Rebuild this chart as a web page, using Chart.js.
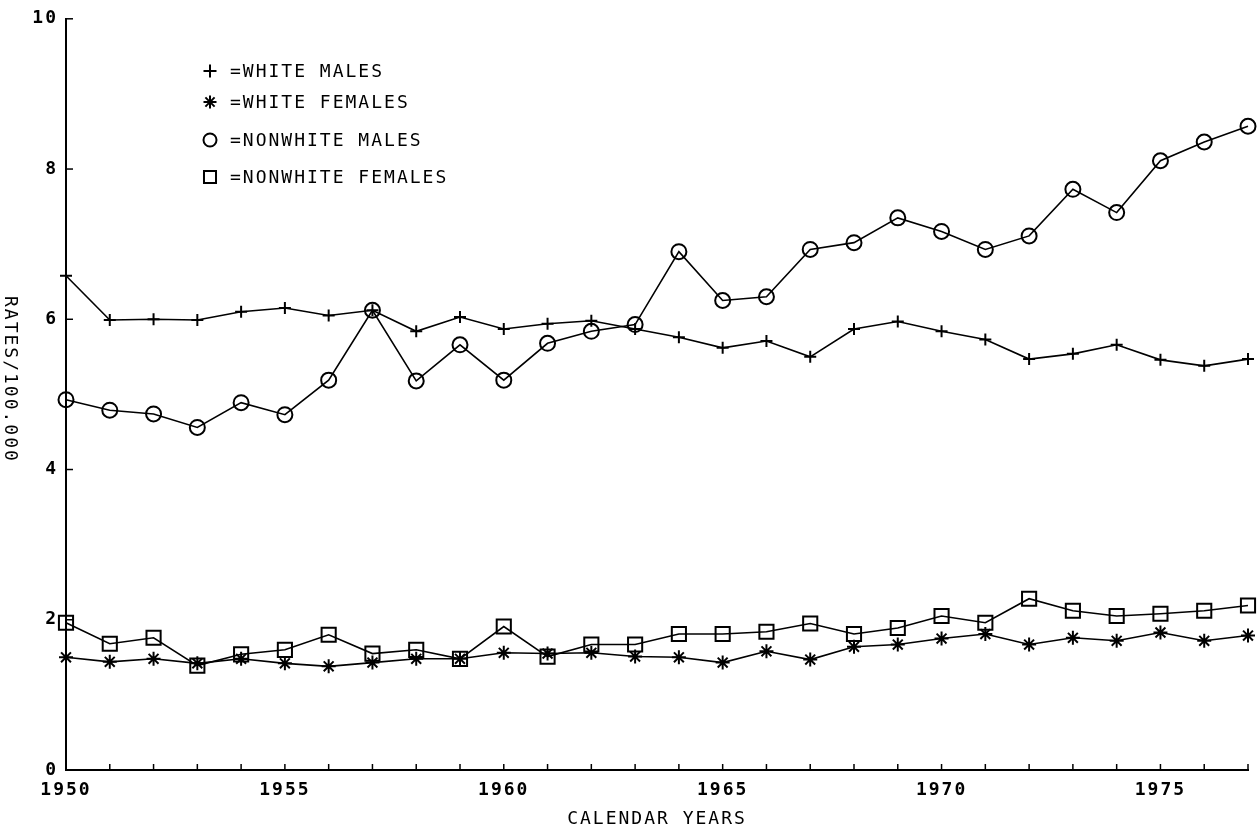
<!DOCTYPE html>
<html>
<head>
<meta charset="utf-8">
<script src="https://cdn.jsdelivr.net/npm/chart.js@4.4.0/dist/chart.umd.min.js"></script>
<style>
html,body{margin:0;padding:0;background:#fff;}
#wrap{width:1260px;height:834px;}
</style>
</head>
<body>
<div id="wrap"><canvas id="c" width="1260" height="834"></canvas></div>
<script>
const years = [1950,1951,1952,1953,1954,1955,1956,1957,1958,1959,1960,1961,1962,1963,1964,1965,1966,1967,1968,1969,1970,1971,1972,1973,1974,1975,1976,1977];
const whiteMales = [6.58,5.99,6.00,5.99,6.10,6.15,6.05,6.12,5.84,6.03,5.87,5.94,5.98,5.87,5.76,5.62,5.71,5.50,5.87,5.97,5.84,5.73,5.47,5.54,5.66,5.46,5.38,5.47];
const whiteFemales = [1.50,1.44,1.48,1.42,1.48,1.42,1.38,1.43,1.48,1.48,1.56,1.55,1.56,1.51,1.50,1.43,1.58,1.47,1.64,1.67,1.75,1.81,1.67,1.76,1.72,1.83,1.72,1.79];
const nonwhiteMales = [4.93,4.79,4.74,4.56,4.89,4.73,5.19,6.12,5.18,5.66,5.19,5.68,5.84,5.93,6.90,6.25,6.30,6.93,7.02,7.35,7.17,6.93,7.11,7.73,7.42,8.11,8.36,8.57];
const nonwhiteFemales = [1.96,1.68,1.76,1.39,1.54,1.60,1.80,1.55,1.60,1.48,1.91,1.51,1.67,1.67,1.81,1.81,1.84,1.95,1.81,1.89,2.05,1.96,2.28,2.12,2.05,2.08,2.12,2.19];
const yTicks = [0,2,4,6,8,10];
const xLabelYears = [1950,1955,1960,1965,1970,1975];
const seriesNames = ['=WHITE MALES','=WHITE FEMALES','=NONWHITE MALES','=NONWHITE FEMALES'];
const yTitle = 'RATES/100.000';
const xTitle = 'CALENDAR YEARS';

const FONT = '"DejaVu Sans Mono", "Liberation Mono", monospace';
const pts = arr => years.map((y,i)=>({x:y,y:arr[i]}));

const styles = [
  {pointStyle:'cross', radius:6},
  {pointStyle:'star', radius:7},
  {pointStyle:'circle', radius:7.5},
  {pointStyle:'rect', radius:10}
];
const allSeries = [whiteMales, whiteFemales, nonwhiteMales, nonwhiteFemales];

const spacingPlugin = {
  id:'spacing',
  beforeDraw(chart){ chart.ctx.letterSpacing = '2px'; }
};

const decoPlugin = {
  id:'deco',
  afterDraw(chart){
    const ctx = chart.ctx;
    const xs = chart.scales.x, ys = chart.scales.y;
    ctx.save();
    ctx.letterSpacing = '2px';
    ctx.strokeStyle = '#000';
    ctx.lineWidth = 1.5;
    years.forEach(yr=>{
      if (yr===years[0]) return;
      const px = xs.getPixelForValue(yr);
      ctx.beginPath(); ctx.moveTo(px, ys.bottom); ctx.lineTo(px, ys.bottom-6); ctx.stroke();
    });
    yTicks.forEach(v=>{
      if (v===0) return;
      const py = ys.getPixelForValue(v);
      ctx.beginPath(); ctx.moveTo(xs.left, py); ctx.lineTo(xs.left+7, py); ctx.stroke();
    });
    ctx.fillStyle = '#000';
    ctx.font = '18px ' + FONT;
    ctx.translate(4, (ys.top+ys.bottom)/2 - 15);
    ctx.rotate(Math.PI/2);
    ctx.textAlign = 'center';
    ctx.textBaseline = 'middle';
    ctx.fillText(yTitle, 0, -6);
    ctx.restore();

    ctx.save();
    ctx.letterSpacing = '2px';
    ctx.font = '18px ' + FONT;
    ctx.textBaseline = 'middle';
    const rowY = [71, 102, 140, 177];
    seriesNames.forEach((name,i)=>{
      const st = styles[i];
      ctx.strokeStyle = '#000';
      ctx.lineWidth = 2;
      ctx.fillStyle = 'rgba(0,0,0,0)';
      Chart.helpers.drawPoint(ctx, {pointStyle:st.pointStyle, radius: st.pointStyle==='rect'?8.5:6.5, rotation:0, borderWidth:2.5}, 210, rowY[i]);
      ctx.fillStyle = '#000';
      ctx.fillText(name, 230, rowY[i]+1);
    });
    ctx.restore();
  }
};

new Chart(document.getElementById('c'), {
  type:'line',
  data:{
    datasets: allSeries.map((arr,i)=>({
      label: seriesNames[i],
      data: pts(arr),
      borderColor:'#000',
      borderWidth:1.6,
      pointStyle: styles[i].pointStyle,
      pointRadius: styles[i].radius,
      pointBorderWidth: 2,
      pointBorderColor:'#000',
      pointBackgroundColor:'rgba(0,0,0,0)',
      tension:0,
      clip:false
    }))
  },
  options:{
    responsive:false,
    animation:false,
    events:[],
    layout:{padding:{top:10,right:10,left:0,bottom:0}},
    plugins:{legend:{display:false}, tooltip:{enabled:false}},
    scales:{
      x:{
        type:'linear', min:1950, max:1977,
        afterBuildTicks(scale){ scale.ticks = years.map(v=>({value:v})); },
        afterFit(scale){ scale.height = 64; },
        ticks:{
          autoSkip:false, maxRotation:0, minRotation:0, padding:10,
          color:'#000', font:{family:FONT, size:18, weight:'bold'},
          callback:(v)=> xLabelYears.includes(v) ? String(v) : ''
        },
        grid:{display:true, drawOnChartArea:false, drawTicks:false},
        border:{display:true, color:'#000', width:2},
        title:{display:true, text:xTitle, color:'#000', font:{family:FONT, size:18}, padding:{top:0,bottom:4}}
      },
      y:{
        type:'linear', min:0, max:10,
        afterBuildTicks(scale){ scale.ticks = yTicks.map(v=>({value:v})); },
        afterFit(scale){ scale.width = 66; },
        ticks:{color:'#000', font:{family:FONT, size:18, weight:'bold'}, padding:8},
        grid:{display:true, drawOnChartArea:false, drawTicks:false},
        border:{display:true, color:'#000', width:2}
      }
    }
  },
  plugins:[spacingPlugin, decoPlugin]
});
</script>
</body>
</html>
